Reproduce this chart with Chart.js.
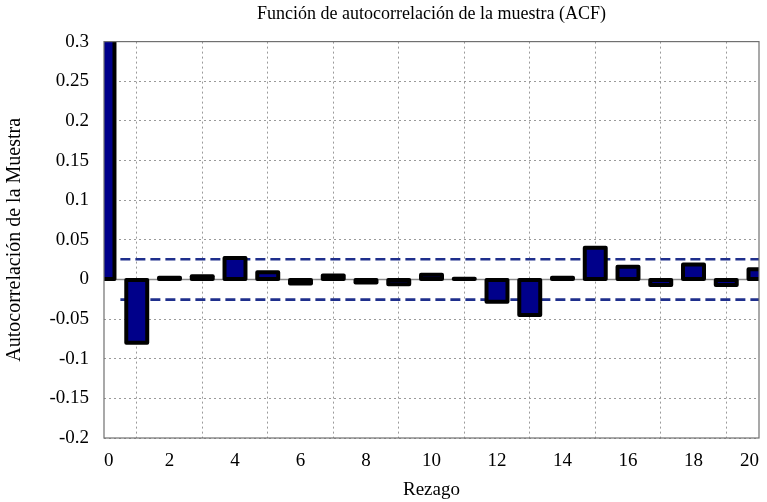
<!DOCTYPE html>
<html>
<head>
<meta charset="utf-8">
<script src="https://cdn.jsdelivr.net/npm/chart.js@4.4.1/dist/chart.umd.min.js"></script>
<style>
  html, body { margin: 0; padding: 0; background: #fff; }
  #wrap { width: 767px; height: 502px; }
</style>
</head>
<body>
<div id="wrap"><canvas id="c" width="767" height="502"></canvas></div>
<script>
// ---- data ----
const lags = [0, 1, 2, 3, 4, 5, 6, 7, 8, 9, 10, 11, 12, 13, 14, 15, 16, 17, 18, 19, 20];
const acfValues = [1.0, -0.080, 0.002, 0.004, 0.027, 0.009, -0.005, 0.005, -0.004, -0.006, 0.006,
                   0.001, -0.028, -0.045, 0.002, 0.040, 0.016, -0.007, 0.019, -0.007, 0.013];
const confBound = 0.0255;
const boundLagRange = [0.5, 20];
const zeroLagRange = [0, 20];
const xTickRange = [0, 20];
const xTickStep = 2;
const yTickRange = [-0.2, 0.3];
const yTickStep = 0.05;
const titleText = 'Función de autocorrelación de la muestra (ACF)';
const xTitle = 'Rezago';
const yTitle = 'Autocorrelación de la Muestra';

const FONT = "'Liberation Serif', 'Times New Roman', serif";

const barPoints = lags.map((l, i) => ({ x: l, y: acfValues[i] }));
const upperBound = boundLagRange.map(l => ({ x: l, y: confBound }));
const lowerBound = boundLagRange.map(l => ({ x: l, y: -confBound }));
const zeroLine = zeroLagRange.map(l => ({ x: l, y: 0 }));

const barStroke = {
  id: 'barStroke',
  afterDatasetsDraw(chart) {
    const ctx = chart.ctx, a = chart.chartArea;
    ctx.save();
    ctx.beginPath();
    ctx.rect(a.left, a.top, a.right - a.left, a.bottom - a.top);
    ctx.clip();
    chart.data.datasets.forEach((ds, di) => {
      if (ds.type !== 'bar') return;
      const meta = chart.getDatasetMeta(di);
      meta.data.forEach(el => {
        const p = el.getProps(['x', 'y', 'base', 'width'], true);
        const left = p.x - p.width / 2;
        const top = Math.min(p.y, p.base);
        const h = Math.abs(p.base - p.y);
        ctx.lineWidth = 4;
        ctx.lineJoin = 'round';
        ctx.strokeStyle = '#000000';
        ctx.strokeRect(left, top, p.width, h);
      });
    });
    ctx.restore();
  },
  afterDraw(chart) {
    const ctx = chart.ctx, a = chart.chartArea;
    ctx.save();
    ctx.strokeStyle = '#707070';
    ctx.lineWidth = 1.2;
    ctx.strokeRect(a.left, a.top, a.right - a.left, a.bottom - a.top);
    ctx.restore();
  }
};

new Chart(document.getElementById('c'), {
  type: 'bar',
  data: {
    datasets: [
      {
        type: 'bar',
        data: barPoints,
        backgroundColor: '#00008a',
        borderWidth: 0,
        inflateAmount: 0,
        categoryPercentage: 0.8,
        barPercentage: 0.8,
        order: 0
      },
      {
        type: 'line',
        data: zeroLine,
        borderColor: '#8c8c8c',
        borderWidth: 1.5,
        pointRadius: 0,
        order: 2
      },
      {
        type: 'line',
        data: upperBound,
        borderColor: '#1f2f8c',
        borderWidth: 2.6,
        borderDash: [10, 5],
        pointRadius: 0,
        order: 1
      },
      {
        type: 'line',
        data: lowerBound,
        borderColor: '#1f2f8c',
        borderWidth: 2.6,
        borderDash: [10, 5],
        pointRadius: 0,
        order: 1
      }
    ]
  },
  options: {
    responsive: false,
    animation: false,
    layout: { padding: { left: 0, right: 8, top: 0, bottom: 0 } },
    plugins: {
      legend: { display: false },
      tooltip: { enabled: false },
      title: {
        display: true,
        text: titleText,
        fullSize: false,
        color: '#000',
        font: { family: FONT, size: 18, weight: 'normal' },
        padding: { top: 3, bottom: 17 }
      }
    },
    scales: {
      x: {
        type: 'linear',
        min: xTickRange[0],
        max: xTickRange[1],
        offset: false,
        afterFit(s) { s.height = 64; s.paddingLeft = 0; s.paddingRight = 0; },
        ticks: {
          stepSize: xTickStep,
          align: 'inner',
          padding: 12,
          color: '#000',
          font: { family: FONT, size: 19 }
        },
        grid: {
          drawTicks: false,
          color: '#9a9a9a',
          lineWidth: 1
        },
        border: { display: false, dash: [2, 3] },
        title: {
          display: true,
          text: xTitle,
          color: '#000',
          font: { family: FONT, size: 19 },
          padding: { top: 0, bottom: 1 }
        }
      },
      y: {
        min: yTickRange[0],
        max: yTickRange[1],
        afterFit(s) { s.width = 104; s.paddingTop = 0; s.paddingBottom = 0; },
        ticks: {
          stepSize: yTickStep,
          padding: 15,
          color: '#000',
          font: { family: FONT, size: 19 },
          callback: (v) => String(Number(v.toFixed(2)))
        },
        grid: {
          drawTicks: false,
          color: '#9a9a9a',
          lineWidth: 1
        },
        border: { display: false, dash: [2, 3] },
        title: {
          display: true,
          text: yTitle,
          color: '#000',
          font: { family: FONT, size: 20 },
          padding: { top: 3, bottom: 0 }
        }
      }
    }
  },
  plugins: [barStroke]
});
</script>
</body>
</html>
